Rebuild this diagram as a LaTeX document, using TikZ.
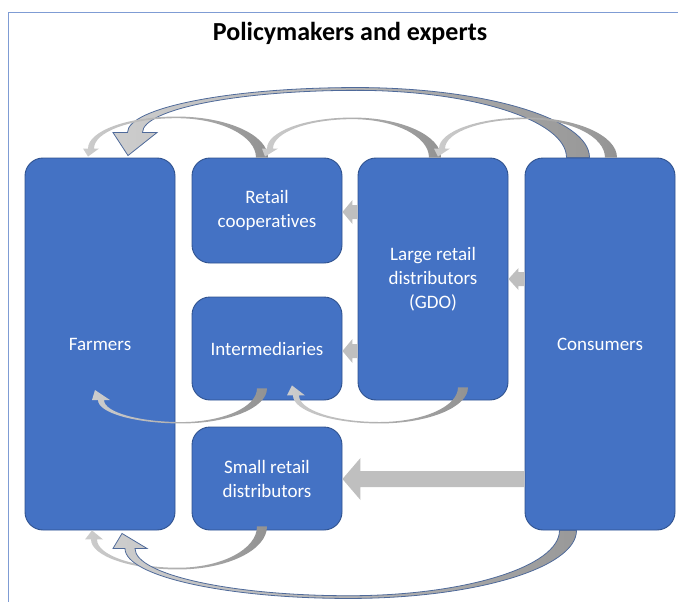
\documentclass[tikz,border=0pt]{standalone}
\usepackage{fontspec}
\setmainfont{Carlito}[Ligatures=NoCommon]
\usetikzlibrary{calc}

\definecolor{boxfill}{HTML}{4472C4}
\definecolor{boxline}{HTML}{2F528F}
\definecolor{framecol}{HTML}{7F9CD4}
\definecolor{arclight}{HTML}{CDCDCD}
\definecolor{arcdark}{HTML}{929292}
\definecolor{flatgray}{HTML}{BFBFBF}
\definecolor{arcedge}{HTML}{4F6A9A}

% curved band arrow: style, tail, tip, apex rise, tail width,
% band width at head, head length, head half width, head slant
\newcommand\flowarc[9]{%
  \path[#1] let \p1=#2, \p2=#3,
      \n1={(\x1+\x2)/2},
      \n2={\y1+(#4)},
      \n3={\y2+(#7)},
      \n4={\n2-0.04*(#4)} in
    (\x1+#5/2,\y1)
      .. controls (\x1+#5/2,{\y1+0.552*(\n2-\y1)}) and ({\n1+0.552*(\x1+#5/2-\n1)},\n2) .. (\n1,\n2)
      .. controls ({\n1-0.552*(\n1-\x2+#6/2)},\n2) and (\x2-#6/2,{\n3+0.552*(\n2-\n3)}) .. (\x2-#6/2,\n3)
      -- (\x2-#8,\n3) -- (\x2-#9,\y2) -- (\x2+#8,\n3) -- (\x2+#6/2,\n3)
      .. controls (\x2+#6/2,{\n3+0.552*(\n4-\n3)}) and ({\n1-0.552*(\n1-\x2-#6/2)},\n4) .. (\n1,\n4)
      .. controls ({\n1+0.552*(\x1-#5/2-\n1)},\n4) and (\x1-#5/2,{\y1+0.552*(\n4-\y1)}) .. (\x1-#5/2,\y1)
      -- cycle;}

% straight block arrow pointing left: style, from, to, shaft half, head half, head length
\newcommand\blockarrow[6]{%
  \path[#1] let \p1=#2, \p2=#3 in
    (\x1,\y1+#4) -- (\x2+#6,\y1+#4) -- (\x2+#6,\y1+#5) -- (\x2,\y1)
    -- (\x2+#6,\y1-#5) -- (\x2+#6,\y1-#4) -- (\x1,\y1-#4) -- cycle;}

\begin{document}
\begin{tikzpicture}[x=1pt,y=-1pt,
        box/.style={draw=boxline,fill=boxfill,line width=0.9pt,rounded corners=18pt,
            minimum width=150pt,text=white,align=center,
            font=\fontsize{19}{24}\selectfont},
        thinarc/.style={left color=arclight,right color=arcdark},
        bigarc/.style={left color=arclight,right color=black!40,draw=arcedge,line width=0.8pt},
        flat/.style={fill=flatgray}]
    \useasboundingbox (0,0) rectangle (678,602);
    \draw[framecol,line width=0.8pt] (8,602) -- (8,12) -- (678,12);

    \node[font=\bfseries\fontsize{26}{30}\selectfont] (title) at (350,33) {Policymakers and experts};

    \node[box,minimum height=372pt] (farm) at (100,344) {Farmers};
    \node[box,minimum height=105pt] (coop) at (267,210.5) {Retail\\cooperatives};
    \node[box,minimum height=103pt] (inter) at (267,348.5) {Intermediaries};
    \node[box,minimum height=103pt] (small) at (267,478.5) {Small retail\\distributors};
    \node[box,minimum height=242pt] (gdo) at (433,279) {Large retail\\distributors\\(GDO)};
    \node[box,minimum height=372pt] (cons) at (600,344) {Consumers};

    % arcs over the top
    \flowarc{bigarc}{([xshift=-22pt]cons.north)}{([xshift=35pt,yshift=2pt]farm.north)}{70}{23}{15}{23}{22}{7}
    \flowarc{thinarc}{([xshift=-5pt]coop.north)}{([xshift=-9pt,yshift=1pt]farm.north)}{41}{12}{6}{8}{8}{3}
    \flowarc{thinarc}{([xshift=2pt]gdo.north)}{([xshift=3pt,yshift=1pt]coop.north)}{40}{12}{6}{8}{8}{5}
    \flowarc{thinarc}{([xshift=11pt]cons.north)}{([xshift=9pt,yshift=1pt]gdo.north)}{40}{12}{6}{8}{8}{4}

    % arcs between the rows
    \flowarc{thinarc}{([xshift=-5pt,yshift=12pt]inter.south)}{([xshift=1pt,yshift=-46pt]farm.center)}{-35}{10}{6}{-10}{9}{6}
    \flowarc{thinarc}{([xshift=30pt,yshift=13pt]gdo.south)}{([xshift=29pt,yshift=15pt]inter.south)}{-36}{10}{6}{-10}{9}{4}

    % arcs along the bottom
    \flowarc{thinarc}{([xshift=-5pt,yshift=4pt]small.south)}{([xshift=-6pt]farm.south)}{-43}{10}{6}{-9}{9}{2}
    \flowarc{bigarc}{([xshift=-32pt]cons.south)}{([xshift=30pt,yshift=-3pt]farm.south)}{-68}{17}{10}{-15}{17}{8}

    % straight arrows
    \blockarrow{flat}{([yshift=67pt]gdo.west)}{(coop.east)}{7}{12}{10}
    \blockarrow{flat}{([yshift=-72pt]gdo.west)}{(inter.east)}{7}{12}{10}
    \blockarrow{flat}{([yshift=65pt]cons.west)}{(gdo.east)}{7}{11}{10}
    \blockarrow{flat}{([yshift=-135pt]cons.west)}{(small.east)}{8}{21}{18}
\end{tikzpicture}
\end{document}
